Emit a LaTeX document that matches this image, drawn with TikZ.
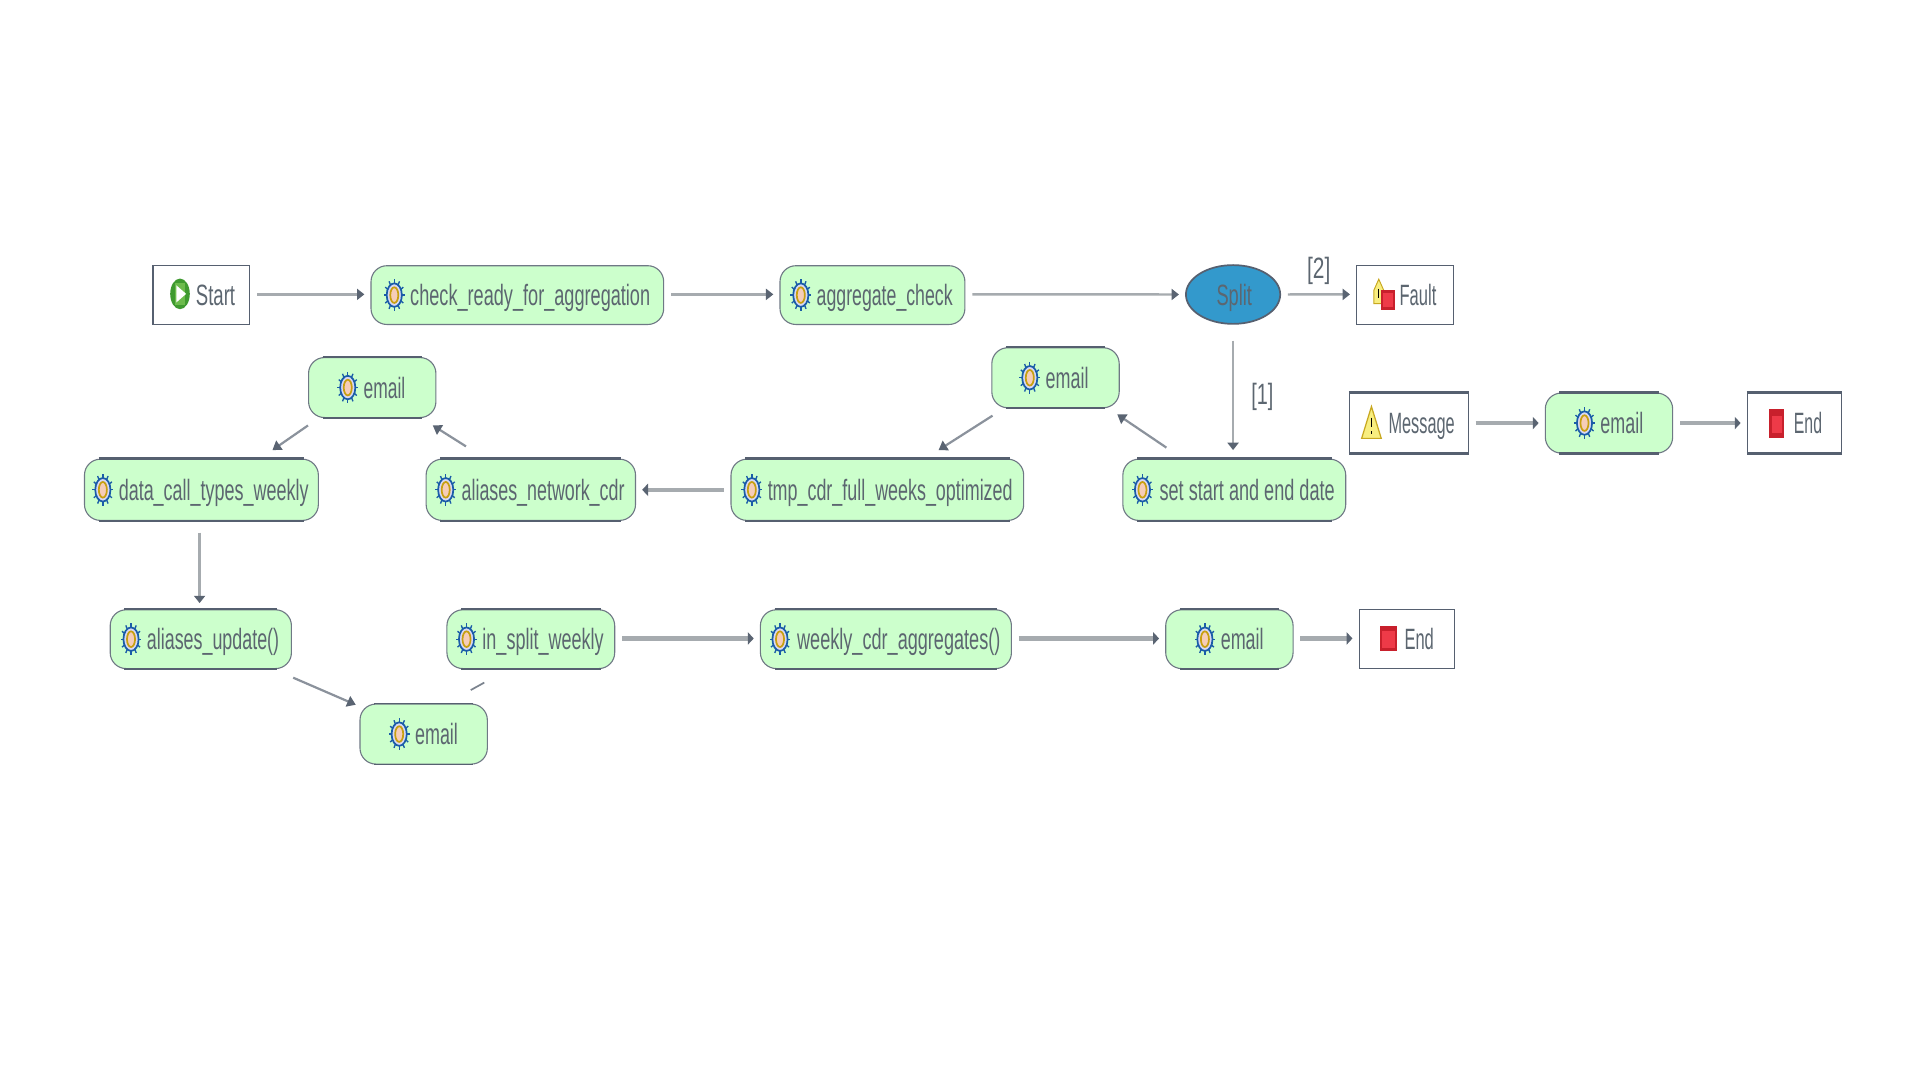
\documentclass[tikz,border=0pt]{standalone}
\usepackage{fontspec}
\setmainfont{Liberation Sans}
\usetikzlibrary{arrows.meta,shapes.geometric}
\definecolor{edgec}{HTML}{566070}
\definecolor{linec}{HTML}{A6ABAF}
\definecolor{tipc}{HTML}{5A6472}
\definecolor{textc}{HTML}{5C6670}
\definecolor{gearb}{HTML}{1A5CA8}
\definecolor{gearl}{HTML}{D8D8F4}
\definecolor{gearg}{HTML}{C8A010}
\definecolor{gearp}{HTML}{F6CDB8}
\definecolor{procfill}{HTML}{CCFFCC}
\definecolor{splitc}{HTML}{3399CC}
\definecolor{startg}{HTML}{3F9A30}
\definecolor{startl}{HTML}{6CBB4C}
\definecolor{redd}{HTML}{C8202C}
\definecolor{redl}{HTML}{EE3A48}
\definecolor{warnl}{HTML}{F8EE80}
\definecolor{warnd}{HTML}{C8A820}
\tikzset{
  x=0.5pt,y=-0.5pt,
  proc/.style={draw=edgec!85,line width=0.45pt,fill=procfill,rounded corners=6.5pt,inner sep=0pt},
  boxn/.style={draw=edgec,line width=0.5pt,fill=white,inner sep=0pt},
  lbl/.style={inner sep=0pt,text=textc},
  conn/.style={draw=linec,line width=1pt,-{Triangle[length=3pt,width=4.5pt,color=tipc]},shorten <=2.8pt,shorten >=2.5pt},
  connb/.style={conn,line width=1.8pt,-{Triangle[length=2.4pt,width=5pt,color=tipc]}},
  diag/.style={draw=tipc!70,line width=0.9pt,-{Triangle[length=3.5pt,width=4.5pt,color=tipc]}},
  edgeline/.style={draw=edgec,line width=#1,line cap=butt},
}
\newcommand{\lblbox}[2]{\resizebox{\dimexpr#1pt/2\relax}{\height}{\fontsize{12pt}{13pt}\selectfont\vphantom{Agl\_}#2}}
\newcommand{\gearicon}[2]{%
  \begin{scope}[shift={(#1,#2)}]
    \foreach \a in {0,30,...,330}{\draw[gearb,line width=0.55pt] (0,0) -- ({8.5*cos(\a)},{13*sin(\a)});}
    \filldraw[draw=gearb,fill=gearl,line width=0.7pt] (0,0) ellipse [x radius=6.2,y radius=9.6];
    \filldraw[draw=gearg,fill=gearp,line width=0.7pt] (0,0) ellipse [x radius=3.3,y radius=6.4];
  \end{scope}}
\newcommand{\proc}[9]{%
  \node[proc,minimum width=#4*0.5pt,minimum height=#5*0.5pt] (#1) at (#2,#3) {};
  \gearicon{#6}{#3}
  \node[lbl] (#1-t) at (#7,#3+2.5) {\lblbox{#8}{#9}};}
\newcommand{\boxnode}[8]{%
  \node[boxn,minimum width=#4*0.5pt,minimum height=#5*0.5pt] (#1) at (#2,#3) {};
  \node[lbl] (#1-t) at (#6,#3+2.5) {\lblbox{#7}{#8}};}
\newcommand{\edges}[3]{%
  \draw[edgeline=#2] ([xshift=#3]#1.north west) -- ([xshift=-#3]#1.north east);
  \draw[edgeline=#2] ([xshift=#3]#1.south west) -- ([xshift=-#3]#1.south east);}
\begin{document}
\begin{tikzpicture}
\fill[white] (0,0) rectangle (1568,882);
\useasboundingbox (0,0) rectangle (1568,882);
% row 1
\boxnode{start}{164.5}{241}{79}{48}{176}{32}{Start}
\proc{check}{422.5}{241}{239}{48}{322}{433}{196}{check\_ready\_for\_aggregation}
\proc{agg}{712.5}{241}{151}{48}{654}{722.5}{111}{aggregate\_check}
\node[draw=edgec,line width=0.7pt,fill=splitc,ellipse,minimum width=38.5pt,minimum height=24pt,inner sep=0pt] (split) at (1007,240.5) {};
\node[lbl] (split-t) at (1008,243) {\lblbox{29}{Split}};
\boxnode{fault}{1147.5}{241}{79}{48}{1158}{30}{Fault}
% row 1.5
\proc{emailtr}{862}{308.5}{104}{49}{841}{871.5}{35}{email}
\proc{emaill}{304}{316.5}{104}{49}{284}{314}{34}{email}
\boxnode{msg}{1150.5}{345.5}{97}{49}{1161}{54}{Message}
\proc{emailm}{1314}{345.5}{104}{49}{1294}{1324.5}{35}{email}
\boxnode{endtop}{1465.5}{345.5}{77}{49}{1476.5}{23}{End}
% row 2
\proc{data}{164.5}{400}{191}{50}{84}{174.5}{155}{data\_call\_types\_weekly}
\proc{anet}{433.5}{400}{171}{50}{364}{443.5}{133}{aliases\_network\_cdr}
\proc{tmp}{716.5}{400}{239}{50}{614}{727}{200}{tmp\_cdr\_full\_weeks\_optimized}
\proc{setd}{1008}{400}{182}{50}{933}{1018.5}{143}{set start and end date}
% row 3
\proc{aupd}{164}{522}{148}{48}{107}{174}{108}{aliases\_update()}
\proc{insp}{433.5}{522}{137}{48}{381}{443.5}{99}{in\_split\_weekly}
\proc{weekly}{723.5}{522}{205}{48}{637}{734}{166}{weekly\_cdr\_aggregates()}
\proc{emailr}{1004}{522}{104}{48}{984}{1014.5}{35}{email}
\boxnode{endbot}{1149}{522}{78}{48}{1159}{24}{End}
\proc{emailb}{346}{599.5}{104}{49}{326}{356.5}{35}{email}
% thickened edges
\edges{emaill}{1.1pt}{6pt}
\edges{data}{1.1pt}{6pt}
\edges{anet}{1.1pt}{6pt}
\edges{tmp}{1.1pt}{6pt}
\edges{setd}{1.1pt}{6pt}
\edges{emailm}{1.1pt}{6pt}
\edges{msg}{1.1pt}{0pt}
\edges{endtop}{1.1pt}{0pt}
\edges{emailtr}{0.7pt}{6pt}
\edges{emailb}{0.7pt}{6pt}
\edges{aupd}{0.7pt}{6pt}
\edges{insp}{0.7pt}{6pt}
\edges{weekly}{0.7pt}{6pt}
\edges{emailr}{0.7pt}{6pt}
% icons
\begin{scope}[shift={(147,240)}]
  \fill[startg] (0,0) ellipse [x radius=8,y radius=12.5];
  \fill[startl] (-4,-9) rectangle (4,9);
  \fill[white] (-3,-7) -- (5,0) -- (-3,7) -- cycle;
\end{scope}
\begin{scope}[shift={(1128,240)}]
  \filldraw[draw=warnd,fill=warnl,line width=0.4pt] (-6,8) -- (-6,-3) -- (-2,-12) -- (2,-3) -- (2,8) -- cycle;
  \draw[black,line width=0.5pt] (-2,-4) -- (-2,3);
  \fill[redd] (0,-3) rectangle (11,13);
  \fill[redl] (1.5,-1) rectangle (9.5,11);
\end{scope}
\begin{scope}[shift={(1120,345)}]
  \filldraw[draw=warnd,fill=warnl,line width=0.5pt] (0,-13) -- (8,13) -- (-8,13) -- cycle;
  \draw[black,line width=0.7pt] (0,-4) -- (0,4) (0,7) -- (0,9.5);
\end{scope}
\fill[redd] (1445,334) rectangle (1457,358);
\fill[redl] (1447,340) rectangle (1455,354);
\fill[redd] (1127,511) rectangle (1141,532);
\fill[redl] (1129,515) rectangle (1139,529);
% labels on connectors
\node[lbl] (l2) at (1077,221) {\lblbox{19}{[2]}};
\node[lbl] (l1) at (1031,324) {\lblbox{18}{[1]}};
% connectors
\draw[conn] ([yshift=0.3pt]start.east) -- ([yshift=0.3pt]check.west);
\draw[conn] ([yshift=0.3pt]check.east) -- ([yshift=0.3pt]agg.west);
\draw[conn] ([yshift=0.3pt]agg.east) -- (split.west);
\draw[conn] (split.east) -- ([yshift=0.3pt]fault.west);
\draw[conn,shorten <=6.5pt,shorten >=3.5pt] (split.south) -- (split.south |- setd.north);
\draw[connb] (tmp.west) -- (anet.east);
\draw[conn] ([shift={(-1.5,4)}]data.south) -- ([xshift=-0.5pt]aupd.north);
\draw[connb] ([yshift=0.3pt]insp.east) -- ([yshift=0.3pt]weekly.west);
\draw[connb] ([yshift=0.3pt]weekly.east) -- ([yshift=0.3pt]emailr.west);
\draw[connb] ([yshift=0.3pt]emailr.east) -- ([yshift=0.3pt]endbot.west);
\draw[connb] (msg.east) -- (emailm.west);
\draw[connb] (emailm.east) -- (endtop.west);
\draw[diag] ([shift={(36,-9)}]setd.north west) -- ([shift={(-2,5)}]emailtr.south east);
\draw[diag] ([shift={(1,6)}]emailtr.south west) -- ([shift={(50,-7)}]tmp.north);
\draw[diag] ([shift={(33,-10)}]anet.north west) -- ([shift={(-3,6)}]emaill.south east);
\draw[diag] ([shift={(0,6)}]emaill.south west) -- ([shift={(58,-7)}]data.north);
\draw[diag] ([shift={(1,7)}]aupd.south east) -- ([shift={(-3,1)}]emailb.north west);
\draw[draw=tipc!80,line width=0.7pt] ([shift={(-14,-11)}]emailb.north east) -- ([shift={(-38,11)}]insp.south);
\end{tikzpicture}
\end{document}
